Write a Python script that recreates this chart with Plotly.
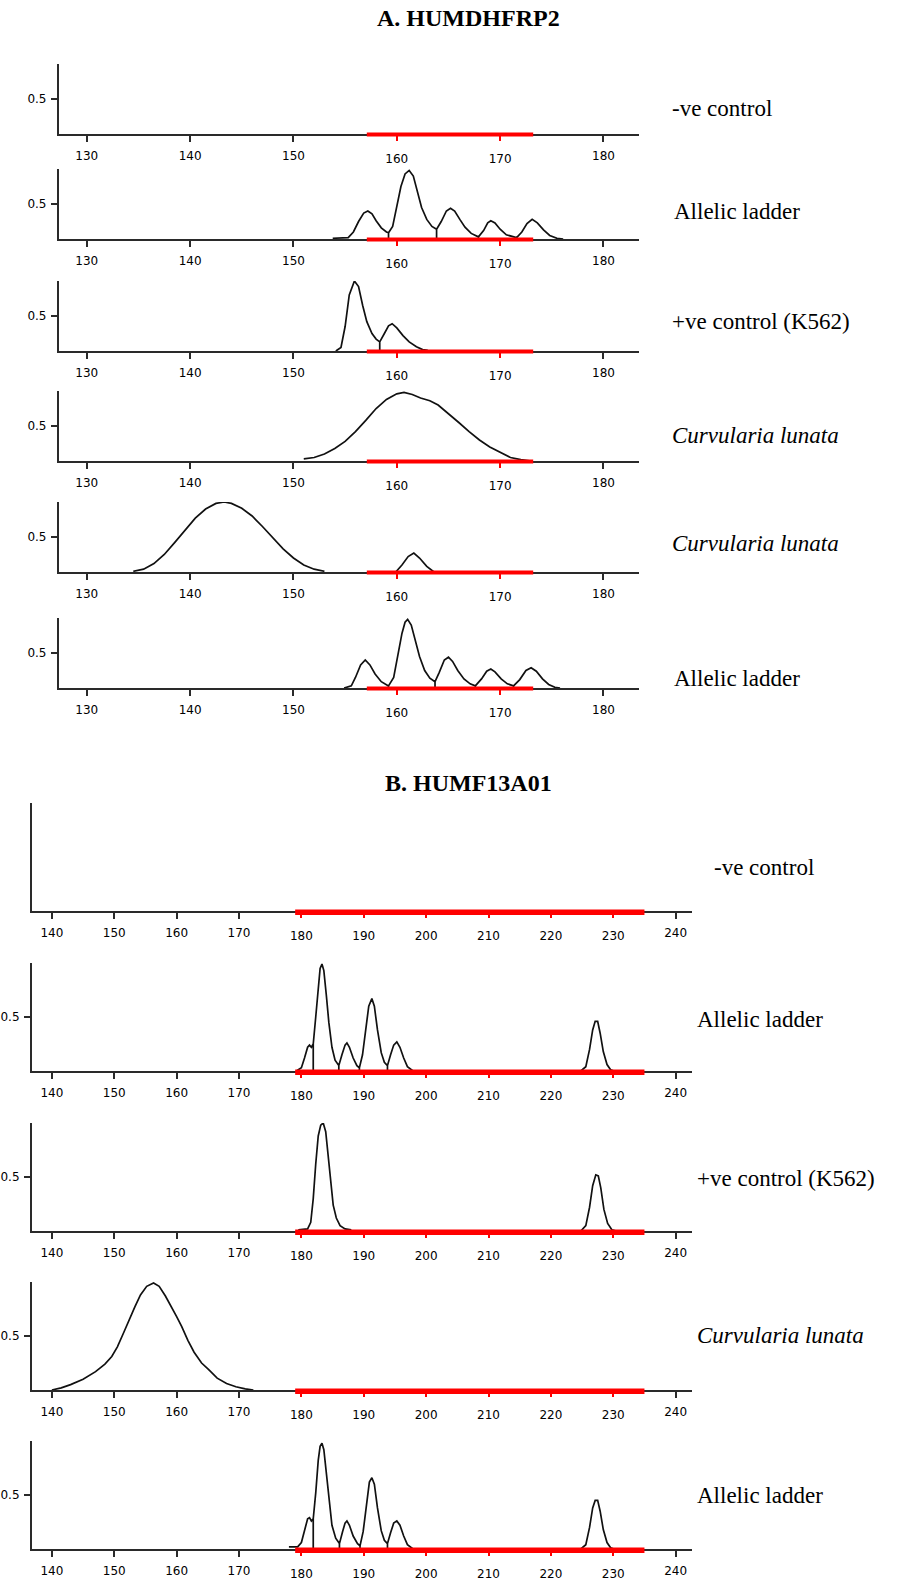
import plotly.graph_objects as go

# ------------------------------------------------------------------ data
A_TITLE = "A. HUMDHFRP2"
B_TITLE = "B. HUMF13A01"

A_ticks = [130, 140, 150, 160, 170, 180]
A_range = [127.3, 183.4]
A_bin = [157.1, 173.2]

B_ticks = [140, 150, 160, 170, 180, 190, 200, 210, 220, 230, 240]
B_range = [136.8, 242.7]
B_bin = [179.0, 235.0]

A_labels = ["-ve control", "Allelic ladder", "+ve control (K562)",
            "<i>Curvularia lunata</i>", "<i>Curvularia lunata</i>", "Allelic ladder"]
B_labels = ["-ve control", "Allelic ladder", "+ve control (K562)",
            "<i>Curvularia lunata</i>", "Allelic ladder"]

# A1 : -ve control (no signal)
A1_x = []
A1_y = []

# A2 : allelic ladder
A2_x = [153.8, 155.3, 155.8, 156.3, 156.8, 157.2, 157.6, 158.0, 158.5, 159.0,
        159.2, 159.2, 159.2,
        159.6, 160.0, 160.4, 160.8, 161.2, 161.6, 162.0, 162.4, 162.9, 163.4,
        163.85, 163.85, 163.85,
        164.3, 164.8, 165.2, 165.6, 166.1, 166.6, 167.2,
        167.9, 167.9, 167.9,
        168.4, 168.8, 169.1, 169.5, 170.0, 170.6,
        171.6, 171.6, 171.6,
        172.1, 172.6, 173.1, 173.6, 174.2, 174.8, 175.5, 176.1]
A2_y = [0.01, 0.02, 0.10, 0.25, 0.37, 0.40, 0.36, 0.26, 0.16, 0.10,
        0.09, 0.0, 0.09,
        0.18, 0.45, 0.75, 0.93, 0.98, 0.90, 0.68, 0.45, 0.28, 0.18,
        0.14, 0.0, 0.14,
        0.25, 0.40, 0.44, 0.40, 0.28, 0.17, 0.08,
        0.03, 0.0, 0.03,
        0.12, 0.23, 0.26, 0.23, 0.14, 0.06,
        0.02, 0.0, 0.02,
        0.10, 0.22, 0.28, 0.23, 0.13, 0.05, 0.01, 0.0]

# A3 : +ve control (K562)
A3_x = [154.1, 154.6, 155.0, 155.4, 155.9, 156.3, 156.7, 157.1, 157.6, 158.0,
        158.35, 158.35, 158.35,
        158.8, 159.2, 159.55, 160.0, 160.6, 161.2, 161.9, 162.5, 163.0]
A3_y = [0.0, 0.05, 0.35, 0.80, 1.0, 0.92, 0.65, 0.42, 0.25, 0.17,
        0.13, 0.0, 0.13,
        0.25, 0.36, 0.39, 0.33, 0.22, 0.13, 0.06, 0.02, 0.01]

# A4 : Curvularia lunata
A4_x = [151.0, 152.0, 153.0, 154.0, 155.0, 156.0, 157.0, 158.0, 159.0, 160.0,
        160.7, 161.5, 162.3, 163.2, 164.0, 165.0, 166.0, 167.0, 168.0, 169.0,
        170.0, 171.0, 172.0, 173.0]
A4_y = [0.03, 0.05, 0.10, 0.18, 0.28, 0.42, 0.58, 0.75, 0.88, 0.96,
        0.98, 0.95, 0.90, 0.86, 0.80, 0.68, 0.55, 0.42, 0.30, 0.20,
        0.12, 0.05, 0.02, 0.0]

# A5 : Curvularia lunata
A5_x = [134.5, 135.5, 136.5, 137.5, 138.5, 139.5, 140.5, 141.5, 142.5, 143.3,
        144.0, 145.0, 146.0, 147.0, 148.0, 149.0, 150.0, 151.0, 152.0, 153.0,
        None,
        159.9, 160.5, 161.1, 161.65, 162.2, 162.9, 163.6]
A5_y = [0.01, 0.04, 0.12, 0.25, 0.42, 0.60, 0.77, 0.90, 0.98, 1.0,
        0.98, 0.91, 0.80, 0.65, 0.49, 0.33, 0.20, 0.10, 0.04, 0.01,
        None,
        0.0, 0.10, 0.22, 0.27, 0.20, 0.08, 0.0]

# A6 : allelic ladder
A6_x = [154.9, 155.6, 156.0, 156.5, 156.95, 157.4, 157.9, 158.5,
        159.2, 159.2, 159.2,
        159.7, 160.1, 160.5, 160.8, 161.05, 161.4, 161.8, 162.2, 162.7, 163.2,
        163.7, 163.7, 163.7,
        164.1, 164.6, 165.0, 165.4, 165.9, 166.5, 167.1,
        167.6, 167.6, 167.6,
        168.2, 168.7, 169.1, 169.5, 170.1, 170.7,
        171.3, 171.3, 171.3,
        171.9, 172.5, 173.0, 173.5, 174.1, 174.7, 175.3, 175.8]
A6_y = [0.0, 0.03, 0.15, 0.33, 0.40, 0.33, 0.20, 0.09,
        0.03, 0.0, 0.03,
        0.15, 0.45, 0.78, 0.94, 0.98, 0.90, 0.68, 0.45, 0.25, 0.14,
        0.09, 0.0, 0.09,
        0.22, 0.40, 0.44, 0.38, 0.25, 0.13, 0.06,
        0.03, 0.0, 0.03,
        0.13, 0.24, 0.27, 0.23, 0.13, 0.06,
        0.03, 0.0, 0.03,
        0.12, 0.25, 0.29, 0.24, 0.13, 0.05, 0.01, 0.0]

# B1 : -ve control (no signal)
B1_x = []
B1_y = []

# B2 : allelic ladder
B2_x = [179.2, 180.0, 180.5, 181.0, 181.3, 181.6,
        181.9, 181.9, 181.9,
        182.3, 182.7, 183.0, 183.3, 183.6, 184.0, 184.4, 184.9, 185.4,
        186.0, 186.0, 186.0,
        186.5, 187.0, 187.3, 187.7, 188.3, 188.9,
        189.3, 189.3, 189.3,
        189.8, 190.3, 190.8, 191.3, 191.7, 192.2, 192.8, 193.3,
        193.8, 193.8, 193.8,
        194.3, 194.8, 195.3, 195.8, 196.4, 197.0, 197.9,
        None,
        224.8, 225.6, 226.2, 226.7, 227.1, 227.5, 227.9, 228.4, 229.0, 229.6, 230.1]
B2_y = [0.0, 0.03, 0.12, 0.22, 0.24, 0.22,
        0.25, 0.0, 0.25,
        0.50, 0.80, 0.95, 0.99, 0.93, 0.70, 0.45, 0.22, 0.10,
        0.05, 0.0, 0.05,
        0.15, 0.24, 0.26, 0.22, 0.12, 0.05,
        0.03, 0.0, 0.03,
        0.15, 0.40, 0.60, 0.67, 0.60, 0.38, 0.17, 0.08,
        0.05, 0.0, 0.05,
        0.15, 0.24, 0.27, 0.22, 0.12, 0.04, 0.0,
        None,
        0.0, 0.04, 0.20, 0.38, 0.46, 0.46, 0.35, 0.18, 0.06, 0.01, 0.0]

# B3 : +ve control (K562)
B3_x = [179.5, 181.0, 181.5, 181.9, 182.3, 182.7, 183.1, 183.5, 183.9, 184.3,
        184.7, 185.1, 185.6, 186.2, 187.0, 188.0,
        None,
        224.8, 225.6, 226.2, 226.7, 227.2, 227.6, 228.0, 228.5, 229.1, 229.8, 230.5]
B3_y = [0.01, 0.02, 0.08, 0.30, 0.62, 0.88, 0.98, 1.0, 0.92, 0.68,
        0.42, 0.24, 0.12, 0.05, 0.02, 0.01,
        None,
        0.0, 0.05, 0.22, 0.42, 0.52, 0.51, 0.40, 0.20, 0.07, 0.01, 0.0]

# B4 : Curvularia lunata
B4_x = [140.0, 141.5, 143.0, 145.0, 147.0, 148.5, 149.6, 150.5, 151.5, 152.5,
        153.3, 154.2, 155.2, 156.3, 157.2, 158.2, 159.2, 160.0, 160.8, 161.8,
        162.8, 164.0, 165.1, 166.5, 168.0, 169.5, 171.0, 172.3]
B4_y = [0.0, 0.02, 0.05, 0.10, 0.17, 0.24, 0.31, 0.40, 0.53, 0.67,
        0.77, 0.88, 0.96, 0.99, 0.96, 0.87, 0.77, 0.68, 0.59, 0.46,
        0.35, 0.25, 0.19, 0.11, 0.06, 0.03, 0.01, 0.0]

# B5 : allelic ladder
B5_x = [178.0, 179.4, 180.0, 180.6, 181.0, 181.3, 181.6,
        181.9, 181.9, 181.9,
        182.3, 182.7, 183.0, 183.3, 183.6, 184.0, 184.4, 184.9, 185.5,
        186.1, 186.1, 186.1,
        186.6, 187.0, 187.3, 187.7, 188.3, 189.0,
        189.4, 189.4, 189.4,
        189.9, 190.4, 190.9, 191.3, 191.7, 192.2, 192.8, 193.3,
        193.8, 193.8, 193.8,
        194.3, 194.8, 195.3, 195.8, 196.4, 197.0, 197.9,
        None,
        224.8, 225.6, 226.2, 226.7, 227.1, 227.5, 227.9, 228.4, 229.0, 229.6, 230.1]
B5_y = [0.02, 0.02, 0.06, 0.20, 0.28, 0.29, 0.26,
        0.28, 0.0, 0.28,
        0.52, 0.82, 0.95, 0.98, 0.92, 0.70, 0.45, 0.22, 0.10,
        0.05, 0.0, 0.05,
        0.16, 0.24, 0.26, 0.22, 0.12, 0.05,
        0.03, 0.0, 0.03,
        0.16, 0.42, 0.62, 0.66, 0.60, 0.38, 0.17, 0.08,
        0.05, 0.0, 0.05,
        0.15, 0.24, 0.26, 0.22, 0.12, 0.04, 0.0,
        None,
        0.0, 0.04, 0.20, 0.38, 0.45, 0.45, 0.35, 0.18, 0.06, 0.01, 0.0]

# ------------------------------------------------------------------ layout (pixels)
W, H = 909, 1583
AX = "#2a2a2a"
TICKFONT = dict(family="DejaVu Sans", size=12, color="#000")
LABELFONT = dict(family="Liberation Serif", size=23, color="#000")

A_px = dict(left=57, right=638, bar_up=1.5, bar_down=2.5)
B_px = dict(left=30, right=692, bar_up=1.5, bar_down=4.0)

# per panel: (group, x data, y data, top, bottom, has 0.5 tick, label x, label y)
panels = [
    ("A", A1_x, A1_y, 64, 134, True, 669, 108),
    ("A", A2_x, A2_y, 169, 239, True, 671, 212),
    ("A", A3_x, A3_y, 281, 351, True, 669, 321),
    ("A", A4_x, A4_y, 391, 461, True, 669, 435),
    ("A", A5_x, A5_y, 502, 572, True, 669, 543),
    ("A", A6_x, A6_y, 618, 688, True, 671, 678),
    ("B", B1_x, B1_y, 803, 911, False, 712, 867),
    ("B", B2_x, B2_y, 963, 1071, True, 695, 1020),
    ("B", B3_x, B3_y, 1123, 1231, True, 695, 1178),
    ("B", B4_x, B4_y, 1282, 1390, True, 695, 1335),
    ("B", B5_x, B5_y, 1441, 1549, True, 695, 1495),
]
labels = A_labels + B_labels

fig = go.Figure()
layout = dict(
    width=W, height=H,
    margin=dict(l=0, r=0, t=0, b=0),
    paper_bgcolor="white", plot_bgcolor="white",
    showlegend=False,
)
shapes = []
annotations = []
n = len(panels)


def sid(i):
    return "" if i == 1 else str(i)


for k, (grp, xs, ys, top, bot, has_half, lx, ly) in enumerate(panels):
    i = k + 1
    j = i + n
    px = A_px if grp == "A" else B_px
    rng = A_range if grp == "A" else B_range
    ticks = A_ticks if grp == "A" else B_ticks
    binr = A_bin if grp == "A" else B_bin
    red_ticks = [t for t in ticks if binr[0] <= t <= binr[1]]
    blk_ticks = [t for t in ticks if t not in red_ticks]

    xdom = [px["left"] / W, px["right"] / W]
    ydom = [1 - bot / H, 1 - top / H]

    layout["xaxis" + sid(i)] = dict(
        domain=xdom, range=rng, anchor="y" + sid(i),
        showline=True, linecolor=AX, linewidth=2,
        ticks="outside", ticklen=6, tickwidth=2, tickcolor=AX,
        tickvals=blk_ticks, ticktext=[str(t) for t in blk_ticks],
        tickfont=TICKFONT, ticklabelstandoff=4,
        showgrid=False, zeroline=False, fixedrange=True,
    )
    layout["xaxis" + sid(j)] = dict(
        overlaying="x" + sid(i), anchor="y" + sid(i), range=rng, side="bottom",
        showline=False, ticks="outside", ticklen=6, tickwidth=2, tickcolor="#ff0000",
        tickvals=red_ticks, ticktext=[str(t) for t in red_ticks],
        tickfont=TICKFONT, ticklabelstandoff=8,
        showgrid=False, zeroline=False, fixedrange=True,
    )
    layout["yaxis" + sid(i)] = dict(
        domain=ydom, range=[0, 1], anchor="x" + sid(i),
        showline=True, linecolor=AX, linewidth=2,
        ticks="outside" if has_half else "", ticklen=6, tickwidth=2, tickcolor=AX,
        tickvals=[0.5] if has_half else [], ticktext=["0.5"] if has_half else [],
        tickfont=TICKFONT, ticklabelstandoff=2,
        showgrid=False, zeroline=False, fixedrange=True,
    )

    if xs:
        fig.add_trace(go.Scatter(
            x=xs, y=ys, mode="lines", connectgaps=False,
            line=dict(color="#111", width=1.7),
            xaxis="x" + sid(i), yaxis="y" + sid(i), hoverinfo="skip",
        ))
    # keep overlay axis alive
    fig.add_trace(go.Scatter(x=[None], y=[None], mode="lines",
                             xaxis="x" + sid(j), yaxis="y" + sid(i), hoverinfo="skip"))

    # red bin bar on the baseline
    shapes.append(dict(
        type="rect", xref="x" + sid(i), yref="y" + sid(i) + " domain",
        x0=binr[0], x1=binr[1],
        ysizemode="pixel", yanchor=0, y0=-px["bar_down"], y1=px["bar_up"],
        fillcolor="#ff0000", line=dict(width=0), layer="above",
    ))

    annotations.append(dict(
        text=labels[k], xref="paper", yref="paper",
        x=lx / W, y=1 - ly / H, xanchor="left", yanchor="middle",
        showarrow=False, font=LABELFONT,
    ))

TITLEFONT = dict(family="Liberation Serif", size=24, color="#000")
annotations.append(dict(text="<b>%s</b>" % A_TITLE, xref="paper", yref="paper",
                        x=468 / W, y=1 - 18 / H, xanchor="center", yanchor="middle",
                        showarrow=False, font=TITLEFONT))
annotations.append(dict(text="<b>%s</b>" % B_TITLE, xref="paper", yref="paper",
                        x=468 / W, y=1 - 783 / H, xanchor="center", yanchor="middle",
                        showarrow=False, font=TITLEFONT))

layout["shapes"] = shapes
layout["annotations"] = annotations
fig.update_layout(**layout)
fig.write_html("out.html", config={"displayModeBar": False},
               post_script="document.body.style.margin='0px';")
